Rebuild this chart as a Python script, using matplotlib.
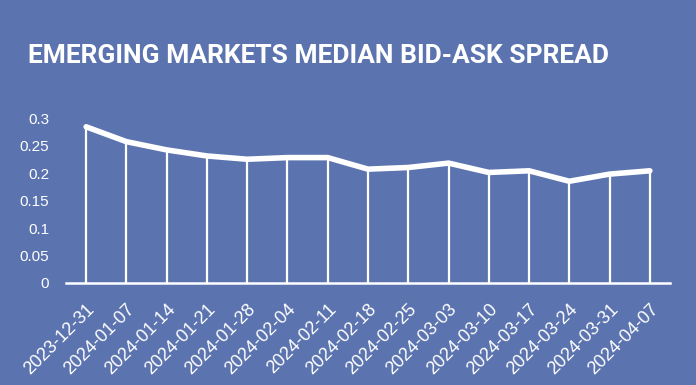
import matplotlib
matplotlib.use("Agg")
import matplotlib.pyplot as plt

# data
dates = ["2023-12-31", "2024-01-07", "2024-01-14", "2024-01-21", "2024-01-28",
         "2024-02-04", "2024-02-11", "2024-02-18", "2024-02-25", "2024-03-03",
         "2024-03-10", "2024-03-17", "2024-03-24", "2024-03-31", "2024-04-07"]
spread = [0.284, 0.257, 0.242, 0.231, 0.225, 0.228, 0.228, 0.207, 0.210,
          0.218, 0.201, 0.204, 0.185, 0.198, 0.204]
yticks = [0, 0.05, 0.1, 0.15, 0.2, 0.25, 0.3]
ytick_labels = ["0", "0.05", "0.1", "0.15", "0.2", "0.25", "0.3"]

bg = "#5b73af"
plt.rcParams['font.family'] = ['Liberation Sans', 'DejaVu Sans']

fig = plt.figure(figsize=(6.96, 3.85), dpi=100, facecolor=bg)
ax = fig.add_axes([66/696, 1 - 283/385, 604/696, 165/385])
ax.set_facecolor(bg)

x = list(range(len(dates)))
ax.vlines(x, 0, spread, colors="white", linewidth=1.6)
ax.plot(x, spread, color="white", linewidth=4, solid_capstyle="round",
        solid_joinstyle="round", clip_on=False)

ax.set_xlim(-0.5, len(dates) - 0.5)
ax.set_ylim(0, 0.3)
ax.set_yticks(yticks)
ax.set_yticklabels(ytick_labels)
ax.set_xticks(x)
ax.set_xticklabels(dates, rotation=45, ha="right", rotation_mode="anchor")
for lbl in ax.get_xticklabels():
    lbl.set_x(lbl.get_position()[0])

for s in ["top", "right", "left"]:
    ax.spines[s].set_visible(False)
ax.spines["bottom"].set_color("white")
ax.spines["bottom"].set_linewidth(1.8)
ax.tick_params(axis="both", length=0, colors="white")
ax.tick_params(axis="y", labelsize=11, pad=12)
ax.tick_params(axis="x", labelsize=13, pad=13)

fig.text(28/696, 1 - 63/385, "EMERGING MARKETS MEDIAN BID-ASK SPREAD",
         color="white", fontsize=19, fontweight="bold", va="baseline",
         family=['Roboto', 'DejaVu Sans'])

fig.savefig("out.png", dpi=100, facecolor=bg)
